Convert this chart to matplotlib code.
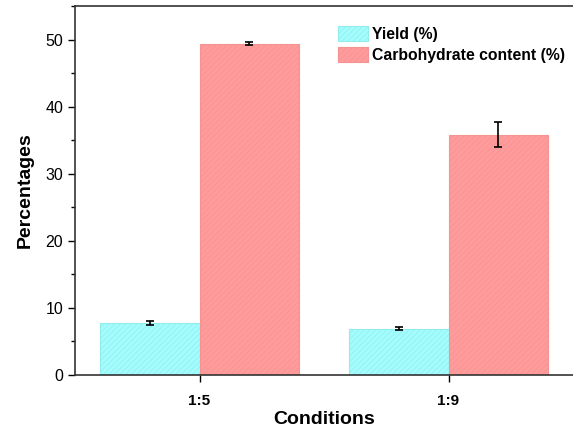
import numpy as np
import matplotlib.pyplot as plt
from matplotlib.ticker import MultipleLocator

plt.rcParams['font.family'] = ['Liberation Sans', 'DejaVu Sans']
plt.rcParams['hatch.linewidth'] = 0.5

conditions = ["1:5", "1:9"]
yield_vals = [7.8, 6.9]
yield_err = [0.3, 0.2]
carb_vals = [49.4, 35.8]
carb_err = [0.2, 1.85]

fig = plt.figure(figsize=(5.73, 4.36), dpi=100)
ax = fig.add_axes([75 / 573, 61 / 436, 498 / 573, 369 / 436])

x = np.arange(len(conditions))
w = 0.4

b1 = ax.bar(x - w / 2, yield_vals, w, color="#A3FDFD", edgecolor="#93ECEC",
            linewidth=0.8, hatch="//////", label="Yield (%)")
b2 = ax.bar(x + w / 2, carb_vals, w, color="#FF9B9B", edgecolor="#F59393",
            linewidth=0.8, hatch="//////", label="Carbohydrate content (%)")

ax.errorbar(x - w / 2, yield_vals, yerr=yield_err, fmt="none", ecolor="black",
            elinewidth=1.2, capsize=3, capthick=1.2)
ax.errorbar(x + w / 2, carb_vals, yerr=carb_err, fmt="none", ecolor="black",
            elinewidth=1.2, capsize=3, capthick=1.2)

ax.set_xlim(-0.5, 1.5)
ax.set_ylim(0, 55)
ax.set_xticks(x)
ax.set_xticklabels(conditions, fontweight="bold", fontsize=11)
ax.yaxis.set_major_locator(MultipleLocator(10))
ax.yaxis.set_minor_locator(MultipleLocator(5))
ax.tick_params(axis="y", labelsize=11.5, length=5, width=1, direction="out")
ax.tick_params(axis="y", which="minor", length=3, width=1)
ax.tick_params(axis="x", length=5, width=1, pad=9)

for s in ax.spines.values():
    s.set_linewidth(1.2)
    s.set_color("#333333")
ax.spines["right"].set_visible(False)   # cut off in the original image

ax.set_xlabel("Conditions", fontweight="bold", fontsize=14, labelpad=2)
ax.set_ylabel("Percentages", fontweight="bold", fontsize=14, labelpad=8)

ax.legend(loc="upper left", bbox_to_anchor=(0.50, 0.985), frameon=False,
          prop={"weight": "bold", "size": 11.3}, handlelength=1.9,
          handleheight=1.1, labelspacing=0.35, handletextpad=0.25)

fig.savefig("out.png", dpi=100)
